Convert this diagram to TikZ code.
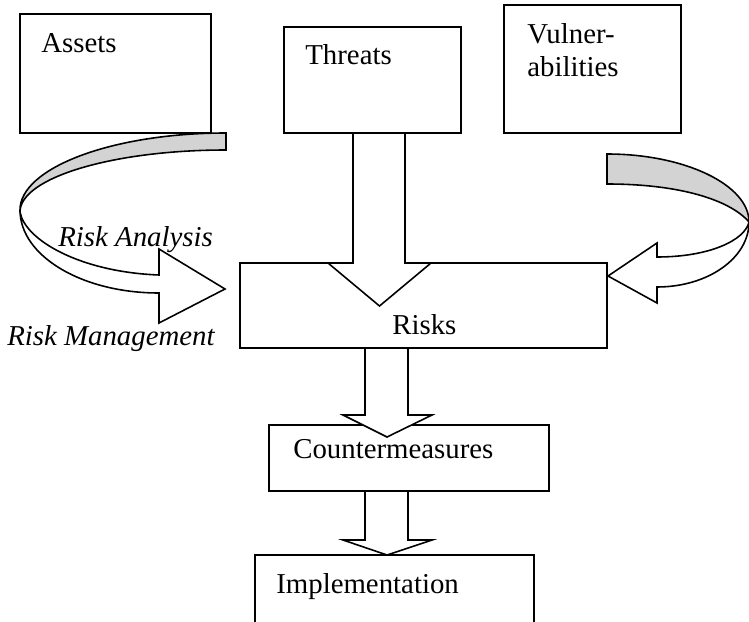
\documentclass[tikz,border=0pt]{standalone}
\usepackage{fontspec}
\setmainfont{Liberation Serif}
\definecolor{ribbongray}{RGB}{211,211,211}
\tikzset{
  boxline/.style={draw, line width=0.9pt},
  blockarrow/.style={draw, fill=white, line width=0.9pt, line join=miter},
  backside/.style={draw, fill=ribbongray, line width=0.9pt},
  lbl/.style={anchor=base west, inner sep=0pt, font=\fontsize{16.4}{19.3}\selectfont},
}
\begin{document}
\begin{tikzpicture}[x=0.02cm,y=-0.02cm]
\clip (0,0) rectangle (749,621);

\draw[boxline] (20,14) rectangle (211,133);
\draw[boxline] (284,27) rectangle (461,133);
\draw[boxline] (504,5) rectangle (681,133);
\draw[boxline] (240,263) rectangle (607,348);
\draw[boxline] (269,425) rectangle (549,491);
\draw[boxline] (255,555) rectangle (534,630);

% left ribbon
\draw[backside] (226,133) .. controls (112,133) and (20,168) .. (20,210)
  -- (20,212) .. controls (20,178) and (112,150) .. (226,150) -- cycle;
\draw[blockarrow] (20,210) .. controls (20,256) and (82,293) .. (159,293)
  -- (159,323) -- (225,289) -- (159,249) -- (159,275)
  .. controls (80,272) and (25,240) .. (20,212) -- cycle;

% right ribbon
\draw[backside] (607,154) .. controls (685,154) and (749,185) .. (749,222)
  .. controls (730,200) and (680,184) .. (607,184) -- cycle;
\draw[blockarrow] (749,222) .. controls (749,258) and (708,287) .. (657,287)
  -- (657,303) -- (608,276) -- (657,243) -- (657,257)
  .. controls (710,257) and (745,240) .. (749,222) -- cycle;

% straight block arrows
\draw[blockarrow] (353,133) -- (353,263) -- (328,263) -- (379.5,306)
  -- (431,263) -- (405,263) -- (405,133) -- cycle;
\draw[blockarrow] (365,348) -- (365,415) -- (343,415) -- (387,437)
  -- (432,415) -- (408,415) -- (408,348) -- cycle;
\draw[blockarrow] (365,491) -- (365,540) -- (343,540) -- (387,555)
  -- (432,540) -- (408,540) -- (408,491) -- cycle;

\node[lbl] (assets) at (41,53) {Assets};
\node[lbl] (threats) at (305,65) {Threats};
\node[lbl, align=left] (vuln) at (527,77) {Vulner-\\abilities};
\node[lbl] (risks) at (392,334) {Risks};
\node[lbl] (counter) at (293,458) {Countermeasures};
\node[lbl] (impl) at (276,593) {Implementation};
\node[lbl, font=\fontsize{16.4}{19.3}\selectfont\itshape] (analysis) at (58,246) {Risk Analysis};
\node[lbl, font=\fontsize{16.4}{19.3}\selectfont\itshape] (management) at (7,345) {Risk Management};
\end{tikzpicture}
\end{document}
